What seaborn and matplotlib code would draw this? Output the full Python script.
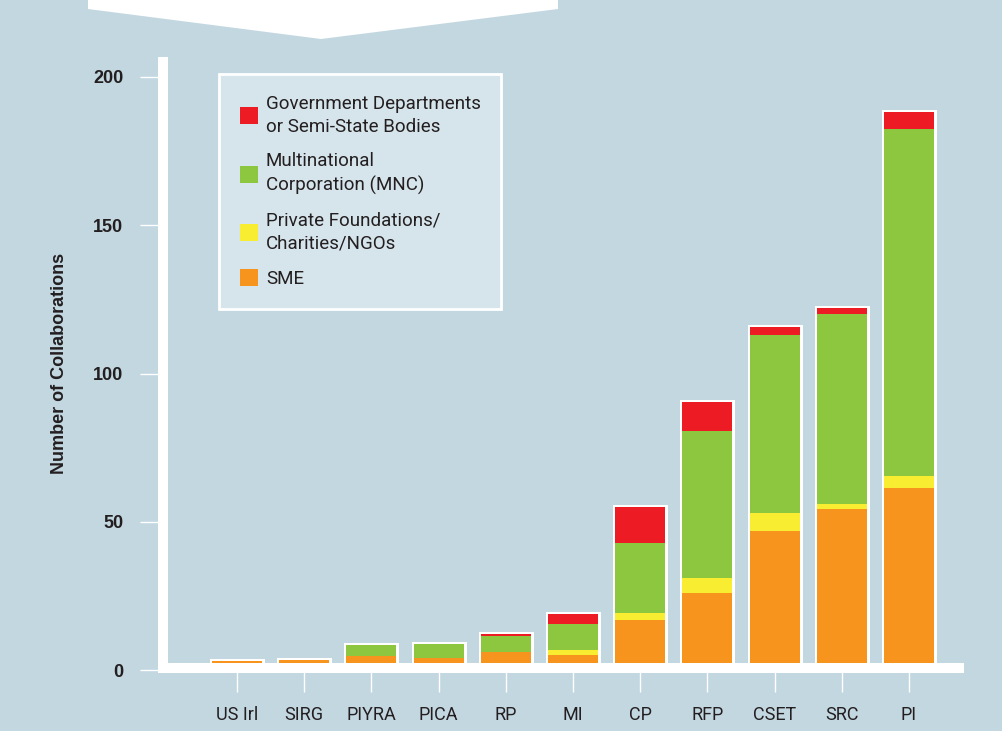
import numpy as np
import pandas as pd
import seaborn as sns
import matplotlib.pyplot as plt
import matplotlib.patches as mpatches

# dati
categorie = ["US Irl", "SIRG", "PIYRA", "PICA", "RP", "MI", "CP", "RFP", "CSET", "SRC", "PI"]
sme = [3.3, 3.6, 4.9, 4.1, 6.3, 5.3, 17.0, 26.0, 47.0, 54.5, 61.5]
privati = [0, 0, 0, 0, 0, 1.6, 2.4, 5.0, 6.0, 1.5, 4.0]
mnc = [0, 0, 3.5, 4.7, 5.4, 8.8, 23.5, 49.5, 60.0, 64.0, 117.0]
governo = [0, 0, 0, 0, 0.7, 3.2, 12.2, 10.0, 2.5, 2.0, 5.5]

nomi_serie = ["Government Departments\nor Semi-State Bodies",
              "Multinational\nCorporation (MNC)",
              "Private Foundations/\nCharities/NGOs",
              "SME"]
colori = ["#ED1C24", "#8DC63F", "#F9ED32", "#F7941E"]

df = pd.DataFrame({"Categoria": categorie, "SME": sme, "Privati": privati,
                   "MNC": mnc, "Governo": governo})
# somme cumulative per le barre impilate
df["c1"] = df["SME"]
df["c2"] = df["c1"] + df["Privati"]
df["c3"] = df["c2"] + df["MNC"]
df["c4"] = df["c3"] + df["Governo"]

sfondo = "#C3D7E1"
testo = "#231F20"

fig = plt.figure(figsize=(10.02, 7.31), dpi=100, facecolor=sfondo)
ax = fig.add_axes([0.1627, 0.0829, 0.7994, 0.8391])
ax.set_facecolor(sfondo)

larg = 0.744
# contorno bianco
sns.barplot(data=df, x="Categoria", y="c4", order=categorie, color="white",
            edgecolor="white", linewidth=3.6, width=larg, ax=ax, zorder=2,
            saturation=1)
# segmenti colorati (sovrapposti dal totale verso il basso)
for col, colore, z in zip(["c4", "c3", "c2", "c1"], colori, [3, 4, 5, 6]):
    sns.barplot(data=df, x="Categoria", y=col, order=categorie, color=colore,
                linewidth=0, width=larg, ax=ax, zorder=z, saturation=1)

ax.set_xlim(-1.1, 10.82)
ax.set_ylim(0, 206.6)
ax.set_yticks([0, 50, 100, 150, 200])

for s in ["top", "right"]:
    ax.spines[s].set_visible(False)
for s in ["left", "bottom"]:
    ax.spines[s].set_color("white")
    ax.spines[s].set_linewidth(7.2)
    ax.spines[s].set_capstyle("projecting")
    ax.spines[s].set_zorder(10)
ax.spines["bottom"].set_position(("data", 0.8))
ax.spines["bottom"].set_bounds(-1.1, 10.745)
ax.spines["left"].set_bounds(0.8, 205)

ax.tick_params(axis="y", length=16.5, width=1, color="white", pad=12,
               labelsize=13, labelcolor=testo)
ax.tick_params(axis="x", length=17, width=1, color="white", pad=10,
               labelsize=13, labelcolor=testo)
for t in ax.get_yticklabels():
    t.set_fontfamily("Liberation Sans")
    t.set_fontweight("bold")
for t in ax.get_xticklabels():
    t.set_fontfamily("Roboto")

ax.set_xlabel("")
ax.set_ylabel("Number of Collaborations", fontsize=13, fontweight="bold",
              family="Liberation Sans", color=testo, labelpad=18)

maniglie = [mpatches.Patch(facecolor=c, edgecolor="none") for c in colori]
leg = ax.legend(handles=maniglie, labels=nomi_serie, loc="upper left",
                bbox_to_anchor=(0.2186, 0.8988), bbox_transform=fig.transFigure,
                borderaxespad=0, frameon=True, fancybox=False, framealpha=1,
                facecolor="#D6E4EB", edgecolor="white", handlelength=1.0,
                handleheight=1.0, handletextpad=0.4, borderpad=1.1,
                labelspacing=0.9, prop={"family": "Roboto", "size": 13.5})
leg.get_frame().set_linewidth(2)
for t in leg.get_texts():
    t.set_linespacing(1.35)
    t.set_color(testo)

# banner bianco in alto
banner = plt.Polygon([[88 / 1002, 1], [88 / 1002, 1 - 9 / 731], [321 / 1002, 1 - 39 / 731],
                      [558 / 1002, 1 - 9 / 731], [558 / 1002, 1]],
                     closed=True, facecolor="white", edgecolor="none",
                     transform=fig.transFigure)
fig.patches.append(banner)

fig.savefig("out.png", dpi=100, facecolor=sfondo)
